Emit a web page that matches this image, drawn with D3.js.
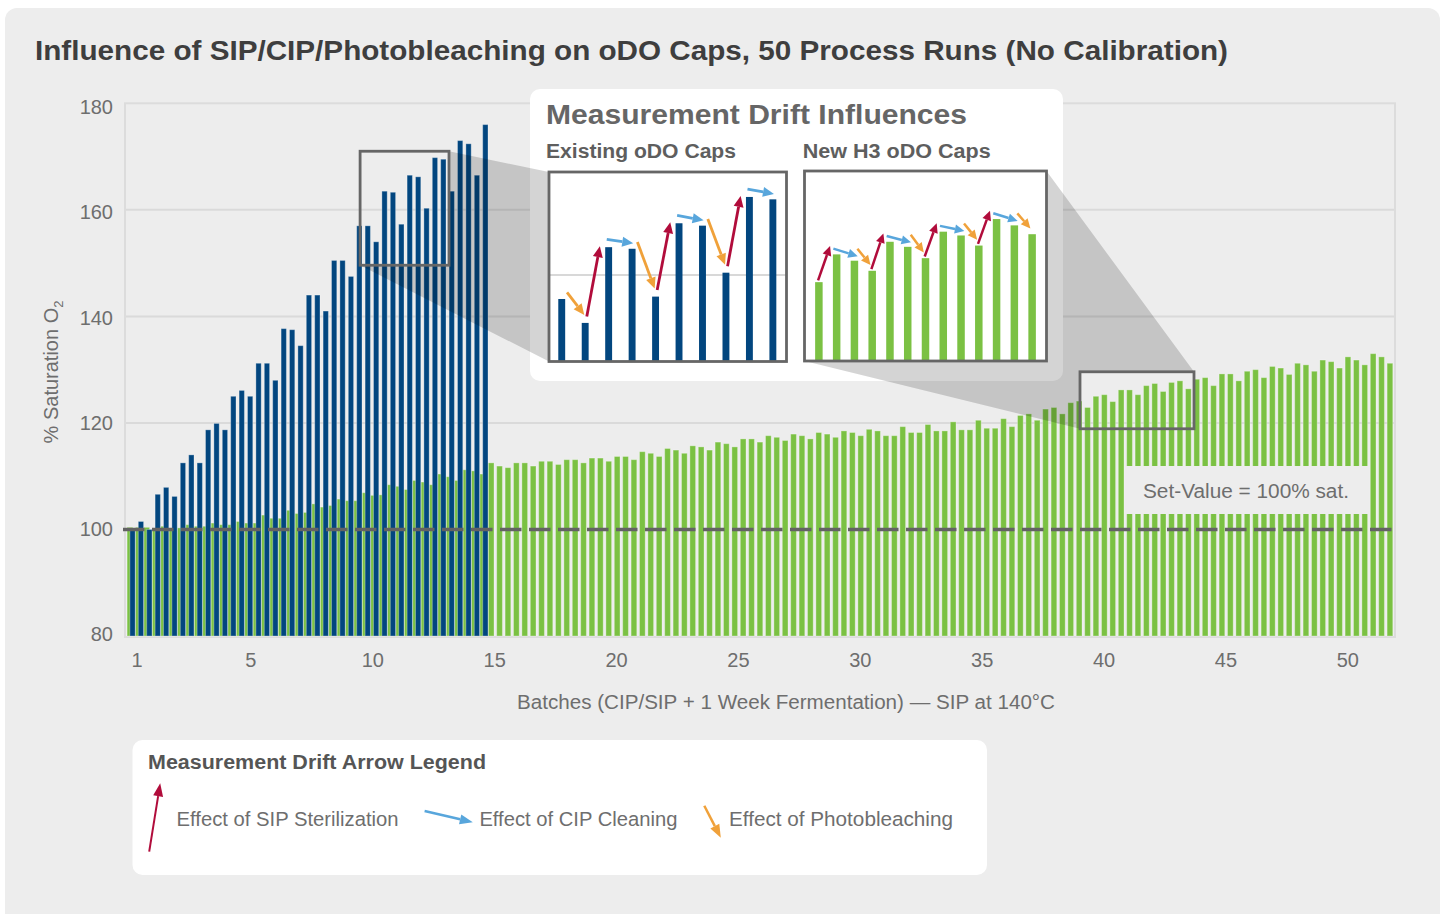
<!DOCTYPE html>
<html>
<head>
<meta charset="utf-8">
<script src="https://cdn.jsdelivr.net/npm/d3@7"></script>
<style>
  body { margin: 0; background: #fff; }
  svg { display: block; font-family: "Liberation Sans", Arial, Helvetica, sans-serif; }
</style>
</head>
<body>
<div id="chart"></div>
<script>
// ── Data ────────────────────────────────────────────────
// Existing oDO caps: 3 readings per batch, batches 1–14 (+ first of 15)
const existingCaps = [
  100.0, 101.5, 100.0, 106.6, 107.9, 106.2, 112.5, 114.0, 112.5, 118.7, 119.9, 118.7,
  125.0, 126.1, 125.0, 131.2, 131.2, 128.0, 137.7, 137.5, 134.5, 144.0, 144.0, 141.0,
  150.5, 150.5, 147.5, 157.0, 157.0, 154.0, 163.5, 163.3, 157.3, 166.5, 166.2, 160.3,
  169.8, 169.5, 163.5, 173.0, 172.4, 166.5, 176.0
];

// New H3 oDO caps: start reading + 3 readings per batch, batches 1–50
const newH3Caps = [
  100.4, 100.4, 100.4, 100.2, 100.6, 100.1, 100.3, 100.9, 100.6, 100.6, 101.2, 100.9,
  100.9, 101.5, 101.2, 101.2, 102.7, 102.1, 102.1, 103.6, 103.0, 103.2, 104.8, 104.2,
  104.5, 105.7, 105.4, 105.4, 106.9, 106.4, 106.5, 108.4, 108.1, 107.5, 109.2, 108.9,
  108.4, 110.4, 109.9, 109.2, 111.2, 111.0, 110.4,
  112.5, 111.9, 111.6, 112.5, 112.5, 111.9, 112.8, 112.8, 112.2, 113.1, 113.1, 112.5,
  113.4, 113.4, 112.8, 113.7, 113.7, 113.1, 114.6, 114.3, 113.7, 115.2, 114.9, 114.3,
  115.7, 115.5, 114.9, 116.4, 116.1, 115.5, 117.0, 117.0, 116.4, 117.6, 117.3, 116.7,
  117.9, 117.6, 117.0, 118.2, 117.9, 117.3, 118.5, 118.2, 117.6, 118.8, 118.5, 117.6,
  117.6, 119.3, 118.2, 118.2, 119.7, 118.5, 118.5,
  120.2, 118.7, 118.7, 120.5, 119.0, 119.0, 120.8, 119.3,
  121.4, 121.7, 120.5, 122.6, 122.9, 121.7, 123.8, 124.1, 122.9, 125.0, 125.3, 124.0,
  126.2, 126.2, 125.3, 127.0, 127.4, 125.9, 127.6, 127.9, 126.4, 128.2, 128.5, 127.0,
  129.2, 129.2, 127.9, 129.7, 130.0, 128.5, 130.6, 130.3, 129.1, 131.2, 130.9, 129.7,
  131.8, 131.5, 130.3, 132.4, 131.8, 130.9, 133.0, 132.4, 131.2
];

// magnified window shown in the "New H3" inset (schematic)
const newH3Zoom = [122.9, 125.1, 124.6, 123.8, 126.1, 125.7, 124.8, 126.9, 126.6, 125.8, 127.9, 127.4, 126.7];

// zoom windows: bar index range + value range
const existingWindow = { from: 28, to: 37, lo: 149.6, hi: 171.0 };
const newH3Window = { from: 114, to: 126, lo: 118.9, hi: 129.6 };

const existingArrows = ['photo', 'sip', 'cip', 'photo', 'sip', 'cip', 'photo', 'sip', 'cip'];
const newH3Arrows = ['sip', 'cip', 'photo', 'sip', 'cip', 'photo', 'sip', 'cip', 'photo', 'sip', 'cip', 'photo'];

const batchTicks = [1, 5, 10, 15, 20, 25, 30, 35, 40, 45, 50];
const yTicks = [80, 100, 120, 140, 160, 180];
const setValue = 100;

const legendItems = [
  { key: 'sip', label: 'Effect of SIP Sterilization' },
  { key: 'cip', label: 'Effect of CIP Cleaning' },
  { key: 'photo', label: 'Effect of Photobleaching' }
];

// ── Styles ──────────────────────────────────────────────
const BLUE = '#02467f';
const GREEN = '#7bc143';
const ARROW = { sip: '#b10c3b', cip: '#58a6dc', photo: '#f0a13a' };
const TEXT = '#6e6e6e';

const W = 1446, H = 914;
const svg = d3.select('#chart').append('svg').attr('width', W).attr('height', H);

svg.append('rect')
  .attr('x', 5).attr('y', 8).attr('width', 1435).attr('height', 940).attr('rx', 12)
  .attr('fill', '#ededed');

svg.append('text')
  .attr('x', 35).attr('y', 60)
  .attr('font-size', 28.5).attr('font-weight', 'bold').attr('fill', '#3e3e3e')
  .attr('textLength', 1193).attr('lengthAdjust', 'spacingAndGlyphs')
  .text('Influence of SIP/CIP/Photobleaching on oDO Caps, 50 Process Runs (No Calibration)');

// ── Scales ──────────────────────────────────────────────
const y = d3.scaleLinear().domain([80, 180]).range([636, 103.3]);
const yLabel = d3.scaleLinear().domain([80, 180]).range([634, 107]);   // tick text sits slightly off the grid
const xBar = d3.scaleBand().domain(d3.range(newH3Caps.length)).range([127.1, 1395.5]);
const xBatch = d3.scaleLinear().domain([1, 5, 50]).range([137, 250.9, 1347.8]);
const GREEN_W = 5.7, BLUE_W = 5.3, BLUE_OFF = 2.8;

const g = svg.append('g');

// grid + frame
g.selectAll('.grid')
  .data(yTicks.filter(v => v > 80 && v < 180 && v !== setValue))
  .join('line')
  .attr('x1', 125).attr('x2', 1395)
  .attr('y1', d => y(d)).attr('y2', d => y(d))
  .attr('stroke', '#dadada').attr('stroke-width', 2);

g.append('rect')
  .attr('x', 125).attr('y', y(180)).attr('width', 1270).attr('height', y(80) - y(180) + 1)
  .attr('fill', 'none').attr('stroke', '#dcdcdc').attr('stroke-width', 2);

// bars
g.selectAll('.gbar')
  .data(newH3Caps)
  .join('rect')
  .attr('x', (d, i) => xBar(i))
  .attr('y', d => y(d))
  .attr('width', GREEN_W)
  .attr('height', d => y(80) - y(d))
  .attr('fill', GREEN)
  .attr('stroke', 'rgba(255,255,255,0.3)').attr('stroke-width', 1);

g.selectAll('.bbar')
  .data(existingCaps)
  .join('rect')
  .attr('x', (d, i) => xBar(i) + BLUE_OFF)
  .attr('y', d => y(d))
  .attr('width', BLUE_W)
  .attr('height', d => y(80) - y(d))
  .attr('fill', BLUE)
  .attr('stroke', 'rgba(255,255,255,0.3)').attr('stroke-width', 1);

// set-value line
g.append('line')
  .attr('x1', 123).attr('x2', 1397)
  .attr('y1', y(setValue)).attr('y2', y(setValue))
  .attr('stroke', '#636363').attr('stroke-width', 3.6)
  .attr('stroke-dasharray', '21.5 7.5');

g.append('rect')
  .attr('x', 1125).attr('y', 466).attr('width', 243).attr('height', 48)
  .attr('fill', '#ededed');
g.append('text')
  .attr('x', 1246).attr('y', 498).attr('text-anchor', 'middle')
  .attr('font-size', 20).attr('fill', TEXT)
  .attr('textLength', 206).attr('lengthAdjust', 'spacingAndGlyphs')
  .text('Set-Value = 100% sat.');

// axes labels
g.selectAll('.ytick')
  .data(yTicks)
  .join('text')
  .attr('x', 113).attr('y', d => yLabel(d)).attr('dy', '0.35em')
  .attr('text-anchor', 'end').attr('font-size', 20).attr('fill', TEXT)
  .text(d => d);

g.selectAll('.xtick')
  .data(batchTicks)
  .join('text')
  .attr('x', d => xBatch(d)).attr('y', 667)
  .attr('text-anchor', 'middle').attr('font-size', 20).attr('fill', TEXT)
  .text(d => d);

g.append('text')
  .attr('x', 786).attr('y', 709).attr('text-anchor', 'middle')
  .attr('font-size', 20).attr('fill', TEXT)
  .attr('textLength', 538).attr('lengthAdjust', 'spacingAndGlyphs')
  .text('Batches (CIP/SIP + 1 Week Fermentation) \u2014 SIP at 140\u00B0C');

const yTitle = g.append('text')
  .attr('transform', 'translate(58,372) rotate(-90)')
  .attr('text-anchor', 'middle').attr('font-size', 20).attr('fill', TEXT);
yTitle.append('tspan').text('% Saturation O');
yTitle.append('tspan').attr('font-size', 13).attr('dy', 5).text('2');

// ── Zoom windows on chart ───────────────────────────────
const leftBox = {
  x0: xBar(existingWindow.from) + BLUE_OFF - 5,
  x1: xBar(existingWindow.to) + BLUE_OFF + BLUE_W + 3,
  y0: y(existingWindow.hi), y1: y(existingWindow.lo)
};
const rightBox = {
  x0: xBar(newH3Window.from) - 4.7,
  x1: xBar(newH3Window.to) + GREEN_W + 2.8,
  y0: y(newH3Window.hi), y1: y(newH3Window.lo)
};

// inset panel
const panel = { x: 530, y: 89, w: 533, h: 292 };
const frameL = { x: 549, y: 172, w: 237.5, h: 189.5 };
const frameR = { x: 804.5, y: 171, w: 242, h: 190 };

svg.append('rect')
  .attr('x', panel.x).attr('y', panel.y).attr('width', panel.w).attr('height', panel.h)
  .attr('rx', 10).attr('fill', '#fff');

// projection shading
const shade = svg.append('g').attr('fill', 'rgba(0,0,0,0.17)');
shade.append('path').attr('d', d3.line()([
  [leftBox.x1, leftBox.y0], [frameL.x, frameL.y], [frameL.x, frameL.y + frameL.h],
  [leftBox.x0, leftBox.y1], [leftBox.x1, leftBox.y1]
]) + 'Z');
shade.append('path').attr('d', d3.line()([
  [frameR.x + frameR.w, frameR.y], [rightBox.x1, rightBox.y0], [rightBox.x0, rightBox.y0],
  [rightBox.x0, rightBox.y1], [frameR.x, frameR.y + frameR.h]
]) + 'Z');

[leftBox, rightBox].forEach(b => {
  svg.append('rect')
    .attr('x', b.x0).attr('y', b.y0).attr('width', b.x1 - b.x0).attr('height', b.y1 - b.y0)
    .attr('fill', 'none').attr('stroke', '#666').attr('stroke-width', 2.8);
});

// ── Insets ──────────────────────────────────────────────
function arrow(sel, x1, y1, x2, y2, color, sw, hl, hw) {
  const a = Math.atan2(y2 - y1, x2 - x1);
  const bx = x2 - hl * Math.cos(a), by = y2 - hl * Math.sin(a);
  sel.append('line')
    .attr('x1', x1).attr('y1', y1).attr('x2', bx).attr('y2', by)
    .attr('stroke', color).attr('stroke-width', sw);
  const px = -Math.sin(a) * hw / 2, py = Math.cos(a) * hw / 2;
  sel.append('path')
    .attr('d', `M${x2},${y2}L${bx + px},${by + py}L${bx - px},${by - py}Z`)
    .attr('fill', color);
}

function drawInset(frame, values, xs, ys, barW, color, seq, offs, sw, hl, hw, grid) {
  const ig = svg.append('g');
  ig.append('rect')
    .attr('x', frame.x).attr('y', frame.y).attr('width', frame.w).attr('height', frame.h)
    .attr('fill', '#fff');
  if (grid) {
    ig.append('line')
      .attr('x1', frame.x).attr('x2', frame.x + frame.w)
      .attr('y1', ys(grid)).attr('y2', ys(grid))
      .attr('stroke', '#d8d8d8').attr('stroke-width', 2);
  }
  const base = frame.y + frame.h;
  ig.selectAll('.ibar')
    .data(values)
    .join('rect')
    .attr('x', (d, i) => xs(i) + (xs.bandwidth() - barW) / 2)
    .attr('y', d => ys(d))
    .attr('width', barW)
    .attr('height', d => base - ys(d))
    .attr('fill', color);
  const cx = i => xs(i) + xs.bandwidth() / 2;
  seq.forEach((t, j) => {
    const o = offs[t];
    arrow(ig, cx(j) + o.sx, ys(values[j]) + o.sy, cx(j + 1) + o.ex, ys(values[j + 1]) + o.ey,
      ARROW[t], sw, hl, hw);
  });
  ig.append('rect')
    .attr('x', frame.x).attr('y', frame.y).attr('width', frame.w).attr('height', frame.h)
    .attr('fill', 'none').attr('stroke', '#666').attr('stroke-width', 2.8);
}

const existingZoom = existingCaps.slice(existingWindow.from, existingWindow.to + 1);
const xsL = d3.scaleBand().domain(d3.range(existingZoom.length)).range([550, 784.6]);
const ysL = d3.scaleLinear().domain([149.16, 172.93]).range([frameL.y + frameL.h, frameL.y]);
drawInset(frameL, existingZoom, xsL, ysL, 6.9, BLUE, existingArrows, {
  photo: { sx: 5.3, sy: -6.7, ex: -0.9, ey: -8 },
  sip: { sx: 1.6, sy: -6.5, ex: -8.8, ey: -1 },
  cip: { sx: -1.9, sy: -7.9, ex: 1.1, ey: -5.4 }
}, 2.8, 11, 10, 160);

const xsR = d3.scaleBand().domain(d3.range(newH3Zoom.length)).range([810, 1041]);
const ysR = d3.scaleLinear().domain([116.65, 131.71]).range([frameR.y + frameR.h, frameR.y]);
drawInset(frameR, newH3Zoom, xsR, ysR, 7.5, GREEN, newH3Arrows, {
  sip: { sx: -0.8, sy: -1.7, ex: -6.6, ey: -8.4 },
  cip: { sx: -3.3, sy: -5.8, ex: 3.3, ey: -4.5 },
  photo: { sx: 3, sy: -12, ex: -1.7, ey: -5.8 }
}, 2.5, 9.5, 9, null);

svg.append('text')
  .attr('x', 546).attr('y', 124)
  .attr('font-size', 28).attr('font-weight', 'bold').attr('fill', '#666')
  .attr('textLength', 421).attr('lengthAdjust', 'spacingAndGlyphs')
  .text('Measurement Drift Influences');
svg.append('text')
  .attr('x', 546).attr('y', 158)
  .attr('font-size', 20).attr('font-weight', 'bold').attr('fill', '#5e5e5e')
  .attr('textLength', 190).attr('lengthAdjust', 'spacingAndGlyphs')
  .text('Existing oDO Caps');
svg.append('text')
  .attr('x', 802.7).attr('y', 158)
  .attr('font-size', 20).attr('font-weight', 'bold').attr('fill', '#5e5e5e')
  .attr('textLength', 188).attr('lengthAdjust', 'spacingAndGlyphs')
  .text('New H3 oDO Caps');

// ── Legend ──────────────────────────────────────────────
const lg = svg.append('g');
lg.append('rect')
  .attr('x', 132.5).attr('y', 740).attr('width', 854.5).attr('height', 135).attr('rx', 10)
  .attr('fill', '#fff');
lg.append('text')
  .attr('x', 148).attr('y', 769)
  .attr('font-size', 19.5).attr('font-weight', 'bold').attr('fill', '#555')
  .attr('textLength', 338).attr('lengthAdjust', 'spacingAndGlyphs')
  .text('Measurement Drift Arrow Legend');

const legendLayout = {
  sip: { a: [149.2, 851.7, 160.2, 783.3], sw: 2, tx: 176.6, tl: 222 },
  cip: { a: [424.6, 811, 472.8, 822.3], sw: 2.5, tx: 479.4, tl: 198 },
  photo: { a: [704.3, 805.7, 720.8, 837.7], sw: 2.5, tx: 729, tl: 224 }
};
legendItems.forEach(it => {
  const L = legendLayout[it.key];
  arrow(lg, L.a[0], L.a[1], L.a[2], L.a[3], ARROW[it.key], L.sw, 13, 10);
  lg.append('text')
    .attr('x', L.tx).attr('y', 826)
    .attr('font-size', 20.5).attr('fill', TEXT)
    .attr('textLength', L.tl).attr('lengthAdjust', 'spacingAndGlyphs')
    .text(it.label);
});
</script>
</body>
</html>
